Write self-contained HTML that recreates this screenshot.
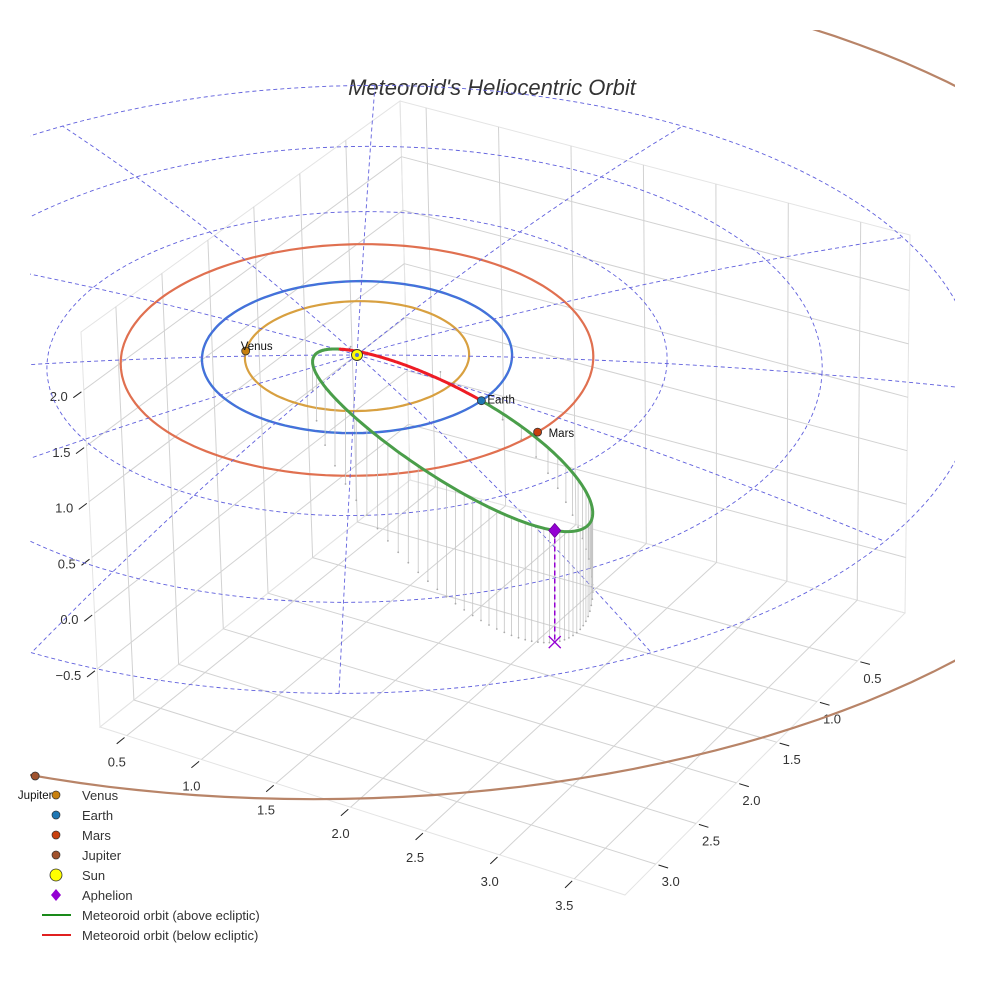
<!DOCTYPE html>
<html><head><meta charset="utf-8"><title>Meteoroid's Heliocentric Orbit</title>
<style>
html,body{margin:0;padding:0;background:#fff;}
svg{display:block;font-family:"Liberation Sans",sans-serif;}
</style></head>
<body>
<svg id="chart" width="984" height="984" viewBox="0 0 984 984" xmlns="http://www.w3.org/2000/svg">
<defs><clipPath id="plotclip"><rect x="30" y="30" width="925" height="940"/></clipPath></defs>
<text x="492" y="95" text-anchor="middle" font-size="22" font-style="italic" fill="#333">Meteoroid's Heliocentric Orbit</text>
</svg>
<script>
// ---- data ----
const planetNames = ['Venus','Earth','Mars','Jupiter'];
const planetRadii = [0.723, 1.0, 1.524, 5.203];
const planetAnglesDeg = [174.7, -35, -38.5, -109.2];
const gridRingRadii = [1, 2, 3, 4];
const gridSpokeAnglesDeg = [0, 30, 60, 90, 120, 150, 180, 210, 240, 270, 300, 330];
const meteoroidEccentricity = [0.937];
const meteoroidPerihelionAU = [0.123];
const meteoroidInclinationDeg = [155];
const meteoroidNodeDeg = [-35];
const meteoroidArgPeriDeg = [-144.4];
const xTicks = [0.5, 1.0, 1.5, 2.0, 2.5, 3.0, 3.5];
const yTicks = [0.5, 1.0, 1.5, 2.0, 2.5, 3.0];
const zTicks = [-0.5, 0.0, 0.5, 1.0, 1.5, 2.0];
const xTickLabels = ['0.5','1.0','1.5','2.0','2.5','3.0','3.5'];
const yTickLabels = ['0.5','1.0','1.5','2.0','2.5','3.0'];
const zTickLabels = ['\u22120.5','0.0','0.5','1.0','1.5','2.0'];
const boxXRange = [0.32, 3.84];
const boxYRange = [-0.09, 3.38];
const boxZRange = [-1.02, 2.52];

// ---- styles (not data) ----
const planetColors = ['#c8800e','#1f77b4','#c8400e','#a0522d'];
const orbitColors = ['#d8a040','#3a78d8','#e07050','#b88468'];
const jupiterCenter = [-0.11, -0.355];
const jupiterDisplayScale = 1.055;

const svg = document.getElementById('chart');
const NS = 'http://www.w3.org/2000/svg';
function mk(tag, attrs, parent){
  const el = document.createElementNS(NS, tag);
  for (const k in attrs) el.setAttribute(k, attrs[k]);
  (parent || svg).appendChild(el);
  return el;
}
const rad = d => d*Math.PI/180;
function P(X, Y, Z, flat){
  const q = flat ? 0 : 2.15;
  return [357 + 155*X + 4.5*Y, 355 - 76*Y + q*(X*X + Y*Y) - 120*(Z || 0)];
}
const pts = arr => arr.map(p => p[0].toFixed(1)+','+p[1].toFixed(1)).join(' ');

// ---- 3D box ----
const cB0=[410,480], cL0=[100,727], cF0=[625,895], cR0=[905,613];
const cBt=[400,101], cLt=[81,332], cFt=[612,470], cRt=[910,235];
function bil(u,v,a,b,c,d){ // a=(0,0) b=(1,0) c=(0,1) d=(1,1)
  return [0,1].map(i => a[i]*(1-u)*(1-v) + b[i]*u*(1-v) + c[i]*(1-u)*v + d[i]*u*v);
}
function BX(x,y,z){
  const u=(x-boxXRange[0])/(boxXRange[1]-boxXRange[0]);
  const v=(y-boxYRange[0])/(boxYRange[1]-boxYRange[0]);
  const w=(z-boxZRange[0])/(boxZRange[1]-boxZRange[0]);
  const lo=bil(u,v,cB0,cR0,cL0,cF0), hi=bil(u,v,cBt,cRt,cLt,cFt);
  return [lo[0]+(hi[0]-lo[0])*w, lo[1]+(hi[1]-lo[1])*w];
}
const gBox = mk('g', {stroke:'#d2d2d2','stroke-width':1,fill:'none'});


const [xl,xh]=boxXRange, [yl,yh]=boxYRange, [zl,zh]=boxZRange;
// pane outlines
[[BX(xl,yl,zl),BX(xl,yh,zl),BX(xl,yh,zh),BX(xl,yl,zh)],
 [BX(xl,yl,zl),BX(xh,yl,zl),BX(xh,yl,zh),BX(xl,yl,zh)],
 [BX(xl,yl,zl),BX(xh,yl,zl),BX(xh,yh,zl),BX(xl,yh,zl)]].forEach(q=>{
  const pl = mk('polygon', {points: pts(q), stroke:'#e4e4e4'}, gBox);
  
  
});
function gline(a,b,parent,color,w){
  return mk('line',{x1:a[0].toFixed(1),y1:a[1].toFixed(1),x2:b[0].toFixed(1),y2:b[1].toFixed(1),stroke:color||'#d2d2d2','stroke-width':w||1},parent);
}
yTicks.forEach(y=>{
  const l1=gline(BX(xl,y,zl),BX(xl,y,zh),gBox);
  
  
  const l2=gline(BX(xl,y,zl),BX(xh,y,zl),gBox);
  
  
});
xTicks.forEach(x=>{
  const l1=gline(BX(x,yl,zl),BX(x,yl,zh),gBox);
  
  
  const l2=gline(BX(x,yl,zl),BX(x,yh,zl),gBox);
  
  
});
zTicks.forEach(z=>{
  const l1=gline(BX(xl,yl,z),BX(xl,yh,z),gBox);
  
  
  const l2=gline(BX(xl,yl,z),BX(xh,yl,z),gBox);
  
  
});
// ticks & labels
const gTicks = mk('g', {fill:'#333','font-size':13});


function unit(a,b){const dx=b[0]-a[0],dy=b[1]-a[1],L=Math.hypot(dx,dy);return [dx/L,dy/L];}
xTicks.forEach((x,i)=>{
  const e=BX(x,yh,zl), d=unit(BX(x,yh-0.5,zl),e);
  const t=gline([e[0]+d[0]*3,e[1]+d[1]*3],[e[0]+d[0]*13,e[1]+d[1]*13],gTicks,'#222',1);
  
  
  const lb=mk('text',{x:(e[0]-10).toFixed(1),y:(e[1]+31).toFixed(1),'text-anchor':'middle'},gTicks);
  lb.textContent=xTickLabels[i];
  
  
});
yTicks.forEach((y,i)=>{
  const e=BX(xh,y,zl), d=unit(BX(xh-0.5,y,zl),e);
  const t=gline([e[0]+d[0]*3,e[1]+d[1]*3],[e[0]+d[0]*13,e[1]+d[1]*13],gTicks,'#222',1);
  
  
  const lb=mk('text',{x:(e[0]+15).toFixed(1),y:(e[1]+22).toFixed(1),'text-anchor':'middle'},gTicks);
  lb.textContent=yTickLabels[i];
  
  
});
zTicks.forEach((z,i)=>{
  const e=BX(xl,yh,z), d=unit(BX(xl,yh-0.5,z),e);
  const t=gline([e[0]+d[0]*3,e[1]+d[1]*3],[e[0]+d[0]*13,e[1]+d[1]*13],gTicks,'#222',1);
  
  
  const lb=mk('text',{x:(e[0]-16).toFixed(1),y:(e[1]+11).toFixed(1),'text-anchor':'end'},gTicks);
  lb.textContent=zTickLabels[i];
  
  
});

// ---- clipped overlay ----
const gOv = mk('g', {'clip-path':'url(#plotclip)'});


// planet orbits (below dashed grid except drawn order)
planetRadii.forEach((r,i)=>{
  const arr=[];
  for(let a=0;a<=360;a+=2){
    if(planetNames[i]==='Jupiter'){
      const R=r*jupiterDisplayScale;
      arr.push(P(jupiterCenter[0]+R*Math.cos(rad(a)), jupiterCenter[1]+R*Math.sin(rad(a)),0,true));
    } else arr.push(P(r*Math.cos(rad(a)), r*Math.sin(rad(a)),0));
  }
  const pl=mk('polyline',{points:pts(arr),fill:'none',stroke:orbitColors[i],'stroke-width':planetNames[i]==='Earth'?2.4:2.2},gOv);
  
  
});
// dashed polar grid
const gGrid = mk('g',{fill:'none',stroke:'#6060dd','stroke-width':0.9,'stroke-dasharray':'4,3'},gOv);


gridRingRadii.forEach(r=>{
  const arr=[];
  for(let a=0;a<=360;a+=2) arr.push(P(r*Math.cos(rad(a)), r*Math.sin(rad(a)),0));
  const pl=mk('polyline',{points:pts(arr)},gGrid);
  
  
});
const outerR = gridRingRadii[gridRingRadii.length-1];
gridSpokeAnglesDeg.forEach(a=>{
  const arr=[];
  for(let k=0;k<=20;k++){const r=outerR*k/20; arr.push(P(r*Math.cos(rad(a)), r*Math.sin(rad(a)),0));}
  const pl=mk('polyline',{points:pts(arr)},gGrid);
  
  
});

// ---- meteoroid orbit ----
const e=meteoroidEccentricity[0], q=meteoroidPerihelionAU[0], p=q*(1+e);
const inc=rad(meteoroidInclinationDeg[0]), Om=rad(meteoroidNodeDeg[0]), om=rad(meteoroidArgPeriDeg[0]);
function orbitPos(nu){
  const r=p/(1+e*Math.cos(nu)), u=nu+om;
  return [r*(Math.cos(Om)*Math.cos(u)-Math.sin(Om)*Math.sin(u)*Math.cos(inc)),
          r*(Math.sin(Om)*Math.cos(u)+Math.cos(Om)*Math.sin(u)*Math.cos(inc)),
          r*Math.sin(u)*Math.sin(inc)];
}
// stems
const gStem = mk('g',{stroke:'#c4c4c4','stroke-width':0.8,fill:'#aaa'});


for(let M=0;M<360;M+=6){
  let E=rad(M); for(let k=0;k<50;k++) E=E-(E-e*Math.sin(E)-rad(M))/(1-e*Math.cos(E));
  const nu=2*Math.atan(Math.sqrt((1+e)/(1-e))*Math.tan(E/2));
  const s=orbitPos(nu), a=P(s[0],s[1],s[2]), b=P(s[0],s[1],0);
  const l=gline(a,b,gStem,'#c4c4c4',0.8);
  
  
  const c=mk('circle',{cx:b[0].toFixed(1),cy:b[1].toFixed(1),r:0.9,stroke:'none'},gStem);
  
  
}
// orbit segments
let seg=[], segAbove=null;
const segs=[];
for(let d=-180;d<=180;d+=0.5){
  const s=orbitPos(rad(d)), above=s[2]>=0, pt=P(s[0],s[1],s[2]);
  if(segAbove===null) segAbove=above;
  if(above!==segAbove){ seg.push(pt); segs.push([segAbove,seg]); seg=[pt]; segAbove=above; }
  else seg.push(pt);
}
segs.push([segAbove,seg]);
segs.forEach(([ab,arr])=>{
  const pl=mk('polyline',{points:pts(arr),fill:'none',stroke:ab?'#4a9e4a':'#ee1c24','stroke-width':3,'stroke-linecap':'round'});
  
  
});
// aphelion
const ap=orbitPos(Math.PI), apS=P(ap[0],ap[1],ap[2]), apF=P(ap[0],ap[1],0);
const apLine=mk('line',{x1:apS[0],y1:apS[1],x2:apF[0],y2:apF[1],stroke:'#9400d3','stroke-width':1.5,'stroke-dasharray':'5,3'});


const apX=mk('path',{d:`M${apF[0]-6},${apF[1]-6}L${apF[0]+6},${apF[1]+6}M${apF[0]-6},${apF[1]+6}L${apF[0]+6},${apF[1]-6}`,stroke:'#9400d3','stroke-width':1.3,fill:'none'});


const apD=mk('polygon',{points:`${apS[0]},${apS[1]-7} ${apS[0]+6},${apS[1]} ${apS[0]},${apS[1]+7} ${apS[0]-6},${apS[1]}`,fill:'#9400d3',stroke:'#6a009a','stroke-width':0.8});



// ---- planets ----
const labelOffsets = {Venus:[-5,-1,'start'],Earth:[6,3,'start'],Mars:[11,5,'start'],Jupiter:[0,23,'middle']};
planetNames.forEach((n,i)=>{
  let s;
  const a=rad(planetAnglesDeg[i]);
  if(n==='Jupiter'){const R=planetRadii[i]*jupiterDisplayScale; s=P(jupiterCenter[0]+R*Math.cos(a), jupiterCenter[1]+R*Math.sin(a),0,true);}
  else s=P(planetRadii[i]*Math.cos(a), planetRadii[i]*Math.sin(a),0);
  const c=mk('circle',{cx:s[0].toFixed(1),cy:s[1].toFixed(1),r:4,fill:planetColors[i],stroke:'#333','stroke-width':0.8});
  
  
  const o=labelOffsets[n];
  const t=mk('text',{x:(s[0]+o[0]).toFixed(1),y:(s[1]+o[1]).toFixed(1),'font-size':11.5,fill:'#111','text-anchor':o[2]});
  t.textContent=n;
  
  
});
const sun=P(0,0,0);
const sc=mk('circle',{cx:sun[0],cy:sun[1],r:5.5,fill:'#ffff00',stroke:'#333','stroke-width':0.9});


const sc2=mk('circle',{cx:sun[0],cy:sun[1],r:2,fill:'#5577cc'});



// ---- legend ----
const gLeg=mk('g',{'font-size':13,fill:'#333'});


const legendLabels=['Venus','Earth','Mars','Jupiter','Sun','Aphelion','Meteoroid orbit (above ecliptic)','Meteoroid orbit (below ecliptic)'];
legendLabels.forEach((lab,i)=>{
  const y=795+i*20;
  let m;
  if(i<4) m=mk('circle',{cx:56,cy:y,r:4,fill:planetColors[i],stroke:'#333','stroke-width':0.7},gLeg);
  else if(i===4) m=mk('circle',{cx:56,cy:y,r:6,fill:'#ffff00',stroke:'#333','stroke-width':0.8},gLeg);
  else if(i===5) m=mk('polygon',{points:`56,${y-6} 61,${y} 56,${y+6} 51,${y}`,fill:'#9400d3'},gLeg);
  else m=mk('line',{x1:42,y1:y,x2:71,y2:y,stroke:i===6?'#1a8a1a':'#e02020','stroke-width':2},gLeg);
  
  
  const t=mk('text',{x:82,y:y+5},gLeg);
  t.textContent=lab;
  
  
});
</script>
</body></html>
